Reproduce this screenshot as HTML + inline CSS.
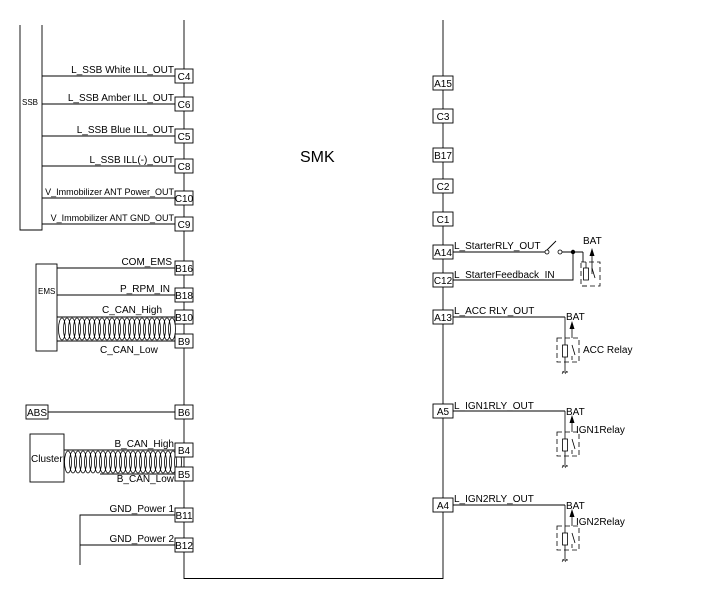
<!DOCTYPE html>
<html><head><style>html,body{margin:0;padding:0;background:#fff}svg{display:block}text{font-family:"Liberation Sans",sans-serif;font-size:10px;fill:#000}</style></head><body>
<svg width="703" height="603" viewBox="0 0 703 603" xmlns="http://www.w3.org/2000/svg">
<defs>
<g id="relay">
 <line x1="0" y1="0" x2="0" y2="54" stroke="#000" stroke-width="0.8"/>
 <rect x="-8" y="21" width="22" height="24" fill="none" stroke="#000" stroke-width="0.8" stroke-dasharray="5,3"/>
 <rect x="-2.5" y="28" width="5" height="12" fill="#fff" stroke="#000" stroke-width="0.8"/>
 <line x1="7" y1="21" x2="7" y2="10" stroke="#000" stroke-width="0.8"/>
 <polygon points="7,4 4.5,12 9.5,12" fill="#000"/>
 <line x1="7" y1="28" x2="10" y2="38" stroke="#000" stroke-width="0.8"/>
 <line x1="7" y1="39" x2="7" y2="43" stroke="#000" stroke-width="0.8"/>
 <line x1="-3" y1="55" x2="3" y2="55" stroke="#000" stroke-width="0.8"/>
 <line x1="-3" y1="57" x2="-1" y2="54" stroke="#000" stroke-width="0.6"/>
 <line x1="0" y1="57" x2="2" y2="54" stroke="#000" stroke-width="0.6"/>
</g>
</defs>
<g stroke="#000" stroke-width="0.9" fill="none">
 <line x1="184" y1="20" x2="184" y2="579"/>
 <line x1="443" y1="20" x2="443" y2="579"/>
 <line x1="184" y1="578.5" x2="443" y2="578.5"/>
 <polyline points="20,25 20,230 42,230 42,25"/>
 <line x1="42" y1="76" x2="175" y2="76"/>
 <line x1="42" y1="104" x2="175" y2="104"/>
 <line x1="42" y1="136" x2="175" y2="136"/>
 <line x1="42" y1="166" x2="175" y2="166"/>
 <line x1="42" y1="198" x2="175" y2="198"/>
 <line x1="42" y1="224" x2="175" y2="224"/>
 <rect x="36" y="264" width="21" height="87"/>
 <line x1="57" y1="268" x2="175" y2="268"/>
 <line x1="57" y1="295" x2="175" y2="295"/>
 <line x1="57" y1="317" x2="175" y2="317"/>
 <line x1="57" y1="341" x2="175" y2="341"/>
 <rect x="26" y="405" width="22" height="14"/>
 <line x1="48" y1="412" x2="175" y2="412"/>
 <rect x="30" y="434" width="34" height="48"/>
 <line x1="64" y1="450" x2="175" y2="450"/>
 <line x1="100" y1="474" x2="175" y2="474"/>
 <polyline points="175,515 80,515 80,565"/>
 <line x1="80" y1="545" x2="175" y2="545"/>
 <line x1="453" y1="252" x2="545" y2="252"/>
 <line x1="547" y1="250" x2="556" y2="241"/>
 <line x1="562" y1="252" x2="583" y2="252"/>
 <polyline points="583,252 583,262"/>
 <polyline points="453,280 573,280 573,252"/>
 <polyline points="453,317 565,317"/>
 <polyline points="453,411 565,411"/>
 <polyline points="453,505 565,505"/>
</g>
<g fill="#fff" stroke="#000" stroke-width="0.8">
 <circle cx="547" cy="252" r="2"/><circle cx="560" cy="252" r="2"/>
</g>
<circle cx="573" cy="252" r="2.2" fill="#000"/>
<g fill="none" stroke="#000" stroke-width="0.8" id="coil1">
<ellipse cx="62" cy="329" rx="3.5" ry="11"/><ellipse cx="67" cy="329" rx="3.5" ry="11"/><ellipse cx="72" cy="329" rx="3.5" ry="11"/><ellipse cx="77" cy="329" rx="3.5" ry="11"/><ellipse cx="82" cy="329" rx="3.5" ry="11"/><ellipse cx="87" cy="329" rx="3.5" ry="11"/><ellipse cx="92" cy="329" rx="3.5" ry="11"/><ellipse cx="97" cy="329" rx="3.5" ry="11"/><ellipse cx="102" cy="329" rx="3.5" ry="11"/><ellipse cx="107" cy="329" rx="3.5" ry="11"/><ellipse cx="112" cy="329" rx="3.5" ry="11"/><ellipse cx="117" cy="329" rx="3.5" ry="11"/><ellipse cx="122" cy="329" rx="3.5" ry="11"/><ellipse cx="127" cy="329" rx="3.5" ry="11"/><ellipse cx="132" cy="329" rx="3.5" ry="11"/><ellipse cx="137" cy="329" rx="3.5" ry="11"/><ellipse cx="142" cy="329" rx="3.5" ry="11"/><ellipse cx="147" cy="329" rx="3.5" ry="11"/><ellipse cx="152" cy="329" rx="3.5" ry="11"/><ellipse cx="157" cy="329" rx="3.5" ry="11"/><ellipse cx="162" cy="329" rx="3.5" ry="11"/><ellipse cx="167" cy="329" rx="3.5" ry="11"/><ellipse cx="172" cy="329" rx="3.5" ry="11"/>
</g>
<use href="#coil1" transform="translate(6,133)"/>
<use href="#relay" transform="translate(565,317)"/>
<use href="#relay" transform="translate(565,411)"/>
<use href="#relay" transform="translate(565,505)"/>
<g transform="translate(583,252)">
 <rect x="-2" y="10" width="19" height="24" fill="none" stroke="#000" stroke-width="0.8" stroke-dasharray="5,3"/>
 <rect x="0.5" y="16" width="5" height="12" fill="#fff" stroke="#000" stroke-width="0.8"/>
 <line x1="3" y1="10" x2="3" y2="16" stroke="#000" stroke-width="0.8"/>
 <line x1="9" y1="22" x2="9" y2="4" stroke="#000" stroke-width="0.8"/>
 <polygon points="9,-4 6.5,4 11.5,4" fill="#000"/>
 <line x1="9" y1="16" x2="12" y2="26" stroke="#000" stroke-width="0.8"/>
 <line x1="-1" y1="34" x2="4" y2="34" stroke="#000" stroke-width="0.6"/>
</g>
<g fill="#fff" stroke="#000" stroke-width="0.9">
 <rect x="175" y="69" width="18" height="14"/><rect x="175" y="97" width="18" height="14"/>
 <rect x="175" y="129" width="18" height="14"/><rect x="175" y="159" width="18" height="14"/>
 <rect x="175" y="191" width="18" height="14"/><rect x="175" y="217" width="18" height="14"/>
 <rect x="175" y="261" width="18" height="14"/><rect x="175" y="288" width="18" height="14"/>
 <rect x="175" y="310" width="18" height="14"/><rect x="175" y="334" width="18" height="14"/>
 <rect x="175" y="405" width="18" height="14"/><rect x="175" y="443" width="18" height="14"/>
 <rect x="175" y="467" width="18" height="14"/><rect x="175" y="508" width="18" height="14"/>
 <rect x="175" y="538" width="18" height="14"/>
 <rect x="433" y="76" width="20" height="14"/><rect x="433" y="109" width="20" height="14"/>
 <rect x="433" y="148" width="20" height="14"/><rect x="433" y="179" width="20" height="14"/>
 <rect x="433" y="212" width="20" height="14"/><rect x="433" y="245" width="20" height="14"/>
 <rect x="433" y="273" width="20" height="14"/><rect x="433" y="310" width="20" height="14"/>
 <rect x="433" y="404" width="20" height="14"/><rect x="433" y="498" width="20" height="14"/>
</g>
<g text-anchor="middle">
 <text x="184" y="80">C4</text><text x="184" y="108">C6</text><text x="184" y="140">C5</text>
 <text x="184" y="170">C8</text><text x="184" y="202">C10</text><text x="184" y="228">C9</text>
 <text x="184" y="272">B16</text><text x="184" y="299">B18</text><text x="184" y="321">B10</text>
 <text x="184" y="345">B9</text><text x="184" y="416">B6</text><text x="184" y="454">B4</text>
 <text x="184" y="478">B5</text><text x="184" y="519">B11</text><text x="184" y="549">B12</text>
 <text x="443" y="87">A15</text><text x="443" y="120">C3</text><text x="443" y="159">B17</text>
 <text x="443" y="190">C2</text><text x="443" y="223">C1</text><text x="443" y="256">A14</text>
 <text x="443" y="284">C12</text><text x="443" y="321">A13</text><text x="443" y="415">A5</text>
 <text x="443" y="509">A4</text>
</g>
<g text-anchor="end">
 <text x="174" y="73">L_SSB White ILL_OUT</text>
 <text x="174" y="101">L_SSB Amber ILL_OUT</text>
 <text x="174" y="133">L_SSB Blue ILL_OUT</text>
 <text x="174" y="163">L_SSB ILL(-)_OUT</text>
 <text x="174" y="195" style="font-size:9px">V_Immobilizer ANT Power_OUT</text>
 <text x="174" y="221" style="font-size:9px">V_Immobilizer ANT GND_OUT</text>
 <text x="172" y="265">COM_EMS</text>
 <text x="170" y="292">P_RPM_IN</text>
 <text x="174" y="482">B_CAN_Low</text>
 <text x="174" y="447">B_CAN_High</text>
 <text x="174" y="512">GND_Power 1</text>
 <text x="174" y="542">GND_Power 2</text>
</g>
<text x="102" y="313">C_CAN_High</text>
<text x="100" y="353">C_CAN_Low</text>
<text x="22" y="105" style="font-size:8px">SSB</text>
<text x="38" y="294" style="font-size:8px">EMS</text>
<text x="27" y="416">ABS</text>
<text x="31" y="462">Cluster</text>
<text x="300" y="162" style="font-size:16px">SMK</text>
<text x="454" y="249">L_StarterRLY_OUT</text>
<text x="454" y="278">L_StarterFeedback_IN</text>
<text x="454" y="314">L_ACC RLY_OUT</text>
<text x="454" y="409">L_IGN1RLY_OUT</text>
<text x="454" y="502">L_IGN2RLY_OUT</text>
<text x="583" y="244">BAT</text>
<text x="566" y="320">BAT</text><text x="583" y="353">ACC Relay</text>
<text x="566" y="415">BAT</text><text x="576" y="433">IGN1Relay</text>
<text x="566" y="509">BAT</text><text x="576" y="525">IGN2Relay</text>
</svg>
</body></html>
